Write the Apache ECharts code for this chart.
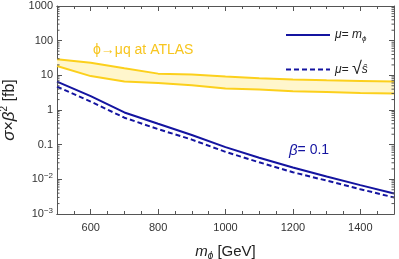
<!DOCTYPE html>
<html><head><meta charset="utf-8">
<script src="https://cdn.jsdelivr.net/npm/echarts@6/dist/echarts.min.js"></script>
<style>html,body{margin:0;padding:0;background:#fff}#c{width:399px;height:259px}</style>
</head><body><div id="c"></div>
<script>
// ---- data ----
const masses = [500, 600, 700, 800, 900, 1000, 1100, 1200, 1300, 1400, 1500];
const sigmaMuMphi = [6.6, 2.5, 0.85, 0.4, 0.19, 0.085, 0.042, 0.022, 0.012, 0.0068, 0.0039];
const sigmaMuSqrtS = [4.7, 1.75, 0.6, 0.28, 0.14, 0.062, 0.031, 0.016, 0.0092, 0.0052, 0.003];
const atlasUpper = [29, 23, 16, 11.2, 10.5, 9.2, 8.3, 7.6, 7.2, 6.9, 6.6];
const atlasLower = [18.5, 9.5, 6.6, 6.0, 5.2, 4.2, 3.9, 3.5, 3.3, 3.1, 3.0];
const xMajorTicks = [600, 800, 1000, 1200, 1400];
const yTickLabels = {1000: '1000', 100: '100', 10: '10', 1: '1', 0.1: '0.1', 0.01: '10{sup|−2}', 0.001: '10{sup|−3}'};
const yMinorValues = [];
for (let k = -3; k <= 2; k++) for (let m = 2; m <= 9; m++) yMinorValues.push(m * Math.pow(10, k));

const BLUE = '#1414a0', GOLD = '#fcd01c', GOLDTXT = '#f7c51e', FILL = '#fff6cc', AX = '#555';
const FONT = 'Liberation Sans';
const chart = echarts.init(document.getElementById('c'));
const pair = (xs, ys) => xs.map((x, i) => [x, ys[i]]);

function xAxisDef(pos, major, labels) {
  return {
    type: 'value', position: pos, min: 500, max: 1500, interval: 50,
    axisLine: {show: true, lineStyle: {color: AX, width: 1}},
    axisTick: major ? {show: true, inside: true, length: 5, customValues: xMajorTicks, lineStyle: {color: AX}}
                    : {show: true, inside: true, length: 3, lineStyle: {color: AX}},
    axisLabel: labels ? {show: true, customValues: xMajorTicks, formatter: v => String(v), color: '#333', fontFamily: FONT, fontSize: 11, margin: 8}
                      : {show: false},
    splitLine: {show: false},
    name: labels ? '{i|m}{sub|ϕ} [GeV]' : '',
    nameLocation: 'middle', nameGap: 28,
    nameTextStyle: {fontFamily: FONT, fontSize: 15, color: '#222',
      rich: {i: {fontStyle: 'italic', fontFamily: FONT, fontSize: 15, color: '#222'},
             sub: {fontStyle: 'italic', fontFamily: FONT, fontSize: 10, color: '#222', verticalAlign: 'top', padding: [9, 0, 0, 0]}}}
  };
}
function yAxisDef(pos, labels) {
  return {
    type: 'log', logBase: 10, position: pos, min: 0.001, max: 1000,
    axisLine: {show: true, lineStyle: {color: AX, width: 1}},
    axisTick: {show: true, inside: true, length: 5, lineStyle: {color: AX}},
    axisLabel: labels ? {show: true, color: '#333', fontFamily: FONT, fontSize: 11, margin: 4,
      formatter: v => yTickLabels[+v.toPrecision(3)] || '',
      rich: {sup: {fontSize: 8, fontFamily: FONT, color: '#333', verticalAlign: 'bottom', padding: [0, 0, 7, 0]}}} : {show: false},
    splitLine: {show: false},
    name: labels ? '{i|σ}×{i|β}{sup|2} [fb]' : '',
    nameLocation: 'middle', nameGap: 33, nameRotate: 90,
    nameTextStyle: {fontFamily: FONT, fontSize: 16, color: '#222',
      rich: {i: {fontStyle: 'italic', fontFamily: FONT, fontSize: 17, color: '#222'},
             sup: {fontFamily: FONT, fontSize: 10, color: '#222', verticalAlign: 'bottom', padding: [0, 0, 10, 0]}}}
  };
}

chart.setOption({
  animation: false,
  grid: {left: 57, right: 5, top: 6, bottom: 45, containLabel: false, outerBoundsMode: 'none'},
  xAxis: [xAxisDef('bottom', false, true), xAxisDef('bottom', true, false), xAxisDef('top', false, false), xAxisDef('top', true, false)],
  yAxis: [yAxisDef('left', true), yAxisDef('right', false)],
  legend: {
    left: 280, top: 24, orient: 'vertical', itemWidth: 44, itemHeight: 12, itemGap: 18,
    data: ['mphi', 'sqrts'],
    itemStyle: {opacity: 0},
    formatter: n => n === 'mphi' ? '{t|μ= }{i|m}{sub|ϕ}' : '{t|μ= }{r|√}{i|ŝ}',
    textStyle: {fontFamily: FONT, fontSize: 12, color: '#222',
      rich: {t: {fontStyle: 'italic', fontFamily: FONT, fontSize: 12, color: '#222'},
             i: {fontStyle: 'italic', fontFamily: FONT, fontSize: 12, color: '#222'},
             r: {fontFamily: FONT, fontSize: 18, color: '#222'},
             sub: {fontStyle: 'italic', fontFamily: FONT, fontSize: 8, color: '#222', verticalAlign: 'top', padding: [7, 0, 0, 0]}}}
  },
  graphic: [
    {type: 'text', left: 93, top: 43, style: {text: 'ϕ→μq at ATLAS', fill: GOLDTXT, font: '14px "Liberation Sans"'}},
    {type: 'text', left: 289, top: 143, style: {text: '{i|β}= 0.1', fill: BLUE, font: '14px "Liberation Sans"',
      rich: {i: {fontStyle: 'italic', fontFamily: FONT, fontSize: 15, fill: BLUE}}}}
  ],
  series: [
    {type: 'custom', name: 'band', xAxisIndex: 0, yAxisIndex: 0, silent: true, z: 1,
      data: [0],
      renderItem: (params, api) => {
        const pts = masses.map((m, i) => api.coord([m, atlasUpper[i]]))
          .concat(masses.slice().reverse().map((m, j) => api.coord([m, atlasLower[masses.length - 1 - j]])));
        return {type: 'polygon', shape: {points: pts}, style: {fill: FILL}};
      }},
    {type: 'line', name: 'upper', data: pair(masses, atlasUpper), symbol: 'none', lineStyle: {color: GOLD, width: 2}, z: 2},
    {type: 'line', name: 'lower', data: pair(masses, atlasLower), symbol: 'none', lineStyle: {color: GOLD, width: 2}, z: 2},
    {type: 'line', name: 'mphi', data: pair(masses, sigmaMuMphi), symbol: 'none', itemStyle: {color: BLUE}, lineStyle: {color: BLUE, width: 2}, z: 3},
    {type: 'line', name: 'sqrts', data: pair(masses, sigmaMuSqrtS), symbol: 'none', itemStyle: {color: BLUE}, lineStyle: {color: BLUE, width: 2, type: [5, 3]}, z: 3},
    {type: 'custom', name: 'minorY', silent: true, z: 4,
      data: yMinorValues.map(v => [500, v]),
      renderItem: (params, api) => {
        const v = api.value(1);
        const pl = api.coord([500, v]), pr = api.coord([1500, v]);
        return {type: 'group', children: [
          {type: 'line', shape: {x1: pl[0], y1: pl[1], x2: pl[0] + 2.5, y2: pl[1]}, style: {stroke: AX, lineWidth: 1}},
          {type: 'line', shape: {x1: pr[0], y1: pr[1], x2: pr[0] - 2.5, y2: pr[1]}, style: {stroke: AX, lineWidth: 1}}
        ]};
      }}
  ]
});
</script></body></html>
